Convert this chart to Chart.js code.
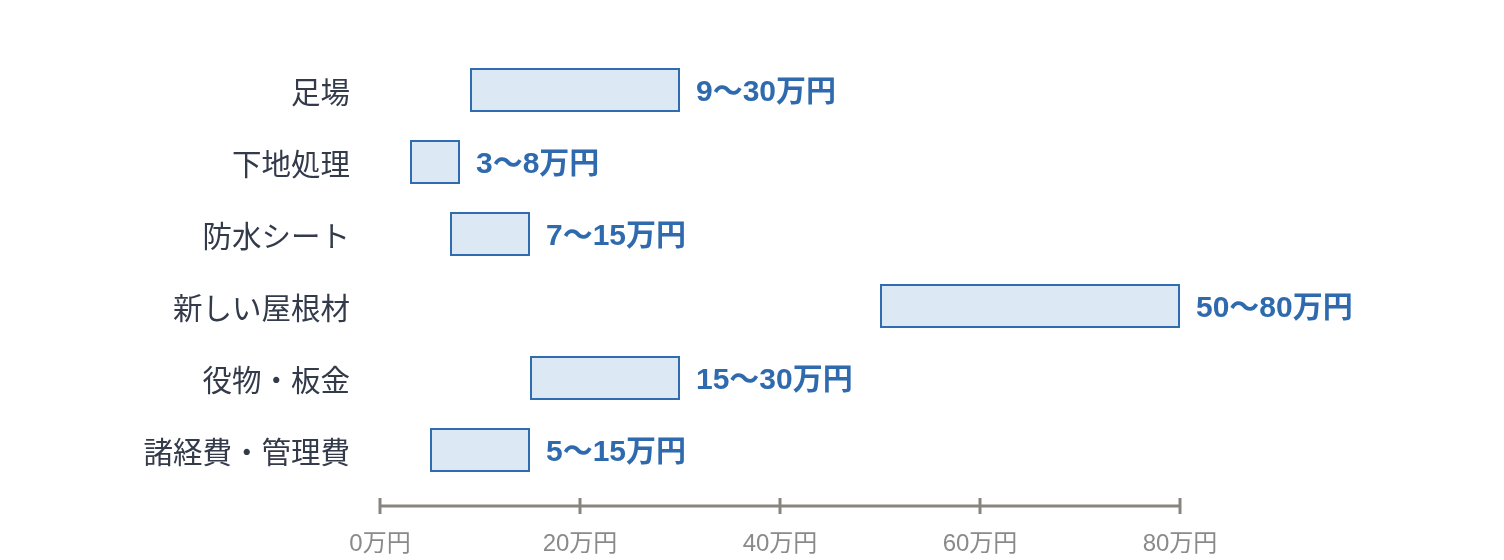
<!DOCTYPE html>
<html>
<head>
<meta charset="utf-8">
<script src="https://cdn.jsdelivr.net/npm/chart.js@4"></script>
<style>
  html, body { margin: 0; padding: 0; background: #fff; }
  #wrap { width: 1504px; height: 560px; }
</style>
</head>
<body>
<div id="wrap"><canvas id="costChart" width="1504" height="560"></canvas></div>
<script>
// 屋根カバー工法の費用内訳（万円）
const categories = ['足場', '下地処理', '防水シート', '新しい屋根材', '役物・板金', '諸経費・管理費'];
const minValues = [9, 3, 7, 50, 15, 5];
const maxValues = [30, 8, 15, 80, 30, 15];
const xTicks = [0, 20, 40, 60, 80];

const FONT = '"Noto Sans CJK JP", "Noto Sans", sans-serif';
const NUM_FONT = '"Liberation Sans", "Noto Sans CJK JP", sans-serif';

// 棒の右に「9〜30万円」を書く
const rangeLabels = {
  id: 'rangeLabels',
  afterDatasetsDraw(chart) {
    const ctx = chart.ctx;
    const meta = chart.getDatasetMeta(0);
    ctx.save();
    ctx.font = 'bold 30px ' + NUM_FONT;
    ctx.fillStyle = '#2e6aad';
    ctx.textAlign = 'left';
    ctx.textBaseline = 'middle';
    meta.data.forEach((bar, i) => {
      ctx.fillText(minValues[i] + '〜' + maxValues[i] + '万円', bar.x + 16, bar.y + 3);
    });
    ctx.restore();
  }
};

// x軸の線と目盛り（チャート領域の少し下）
const axisLine = {
  id: 'axisLine',
  afterDraw(chart) {
    const ctx = chart.ctx;
    const x = chart.scales.x;
    const y = chart.chartArea.bottom + 20;
    ctx.save();
    ctx.strokeStyle = '#888580';
    ctx.lineWidth = 3;
    ctx.beginPath();
    ctx.moveTo(x.getPixelForValue(xTicks[0]), y);
    ctx.lineTo(x.getPixelForValue(xTicks[xTicks.length - 1]), y);
    xTicks.forEach(v => {
      const px = x.getPixelForValue(v);
      ctx.moveTo(px, y - 8);
      ctx.lineTo(px, y + 8);
    });
    ctx.stroke();
    ctx.restore();
  }
};

new Chart(document.getElementById('costChart'), {
  type: 'bar',
  data: {
    labels: categories,
    datasets: [{
      data: minValues.map((v, i) => [v, maxValues[i]]),
      backgroundColor: '#dce8f4',
      borderColor: '#2f6db0',
      borderWidth: 2,
      borderSkipped: false,
      categoryPercentage: 1,
      barPercentage: 0.61
    }]
  },
  options: {
    indexAxis: 'y',
    responsive: false,
    animation: false,
    layout: { padding: { top: 54, right: 324, bottom: 0, left: 0 } },
    plugins: {
      legend: { display: false },
      tooltip: { enabled: false }
    },
    scales: {
      x: {
        min: 0,
        max: 80,
        afterFit(scale) { scale.height = 74; },
        afterBuildTicks(scale) { scale.ticks = xTicks.map(v => ({ value: v })); },
        grid: { display: false, drawTicks: false },
        border: { display: false },
        ticks: {
          padding: 44,
          color: '#8a8a8a',
          font: { family: NUM_FONT, size: 24 },
          callback: v => v + '万円'
        }
      },
      y: {
        afterFit(scale) { scale.width = 380; },
        grid: { display: false, drawTicks: false },
        border: { display: false },
        ticks: {
          padding: 30,
          labelOffset: 2,
          color: '#333a4a',
          font: { family: FONT, size: 29.5 }
        }
      }
    }
  },
  plugins: [rangeLabels, axisLine]
});
</script>
</body>
</html>
